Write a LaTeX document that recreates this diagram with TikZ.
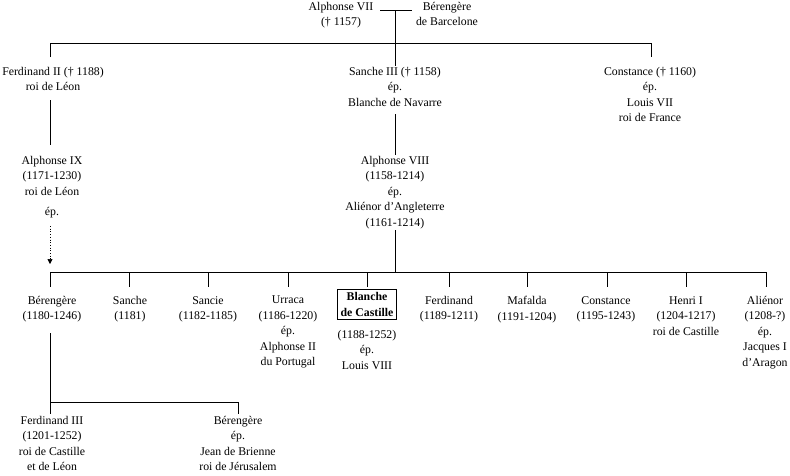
\documentclass[tikz,border=0pt]{standalone}
\usepackage{fontspec}
\setmainfont{Liberation Serif}
\usetikzlibrary{arrows.meta}
\begin{document}
\begin{tikzpicture}[x=1pt,y=-1pt,
  p/.style={align=center,anchor=north,inner sep=1pt,font=\fontsize{11.8}{15.5}\selectfont},
  ln/.style={line width=0.7pt}]
\useasboundingbox[fill=white] (0,0) rectangle (790,475);
% top
\node[p] (a7) at (341,1) {Alphonse VII\\(† 1157)};
\node[p] (b) at (447,1) {Bérengère\\de Barcelone};
\coordinate (m) at (395,10);
\draw[ln] (380,10) -- (412,10);
\coordinate (t0) at (50,43); \coordinate (t1) at (651,43); \coordinate (tm) at (395,43);
\draw[ln] (m) -- (tm);
\draw[ln] (50,57) -- (t0) -- (t1) -- (651,57);
\node[p] (f2) at (53,66) {Ferdinand II († 1188)\\roi de Léon};
\node[p] (s3) at (395,66) {Sanche III († 1158)\\ép.\\Blanche de Navarre};
\node[p] (c) at (650,66) {Constance († 1160)\\ép.\\Louis VII\\roi de France};
\draw[ln] (tm) -- (s3.north);
\node[p] (a9) at (52,155) {Alphonse IX\\(1171-1230)\\roi de Léon\\[5pt]ép.};
\draw[ln] (50,100) -- (50,145);
\draw[line width=0.7pt,dotted,-{Triangle[length=5pt,width=5pt]}] (50,226) -- (50,264);
\node[p] (a8) at (395,155) {Alphonse VIII\\(1158-1214)\\ép.\\Aliénor d’Angleterre\\(1161-1214)};
\draw[ln] (395,114) -- (a8.north);
\draw[ln] (a8.south) -- (395,272);
\draw[ln] (50,272) -- (766,272);
\foreach \x in {50,129,208,288,367,449,527,607,686,766} \draw[ln] (\x,272) -- (\x,287);
\node[p] (c1) at (52,295) {Bérengère\\(1180-1246)};
\node[p] (c2) at (130,295) {Sanche\\(1181)};
\node[p] (c3) at (208,295) {Sancie\\(1182-1185)};
\node[p] (c4) at (288,295) {Urraca\\(1186-1220)\\ép.\\Alphonse II\\du Portugal};
\node[draw,line width=0.8pt,inner sep=3pt,align=center,anchor=north,font=\fontsize{11.8}{15.5}\selectfont\bfseries] (c5) at (367,289) {Blanche\\de Castille};
\node[p,anchor=north] (c5b) at (367,329) {(1188-1252)\\ép.\\Louis VIII};
\node[p] (c6) at (449,295) {Ferdinand\\(1189-1211)};
\node[p] (c7) at (527,295) {Mafalda\\(1191-1204)};
\node[p] (c8) at (606,295) {Constance\\(1195-1243)};
\node[p] (c9) at (686,295) {Henri I\\(1204-1217)\\roi de Castille};
\node[p] (c10) at (765,295) {Aliénor\\(1208-?)\\ép.\\Jacques I\\d’Aragon};
\draw[ln] (50,333) -- (50,402) -- (238,402) -- (238,414);
\draw[ln] (50,402) -- (50,414);
\node[p] (g1) at (52,415) {Ferdinand III\\(1201-1252)\\roi de Castille\\et de Léon};
\node[p] (g2) at (238,415) {Bérengère\\ép.\\Jean de Brienne\\roi de Jérusalem};
\end{tikzpicture}
\end{document}
